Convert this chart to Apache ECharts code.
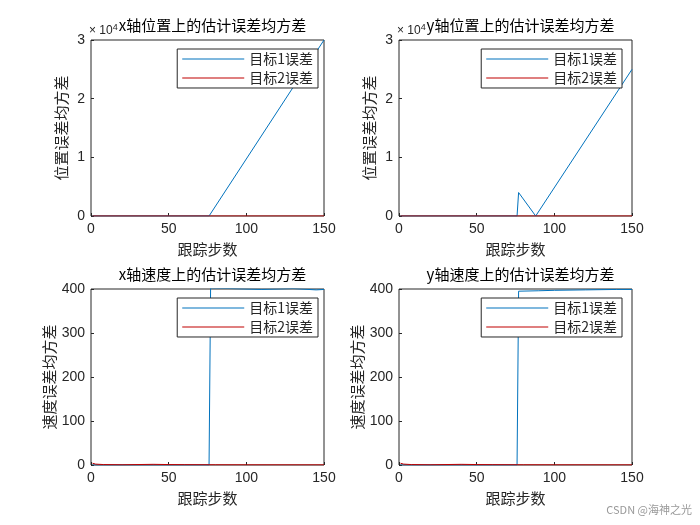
<!DOCTYPE html><html><head><meta charset="utf-8"><script src="https://cdn.jsdelivr.net/npm/echarts@6/dist/echarts.min.js"></script></head><body style="margin:0"><div id="c" style="width:700px;height:525px"></div><script>
const titles=['x轴位置上的估计误差均方差','y轴位置上的估计误差均方差','x轴速度上的估计误差均方差','y轴速度上的估计误差均方差'];
const yNames=['位置误差均方差','位置误差均方差','速度误差均方差','速度误差均方差'];
const xName='跟踪步数';
const legendNames=['目标1误差','目标2误差'];
const yMax=[30000,30000,400,400];
const yInt=[10000,10000,100,100];
const s1=[
 [[1,0],[76,0],[150,30000]],
 [[1,0],[76,0],[77,4000],[88,0],[150,25000]],
 [[1,0],[76,0],[77,402],[90,401],[110,399],[130,401],[145,398],[150,399]],
 [[1,0],[76,0],[77,395],[90,396],[100,397],[120,398],[140,399],[150,399]]
];
const s2=[
 [[1,0],[150,0]],
 [[1,0],[150,0]],
 [[1,4],[3,2],[8,1],[20,0.5],[40,1.5],[50,1],[60,0.8],[80,0.5],[100,0.4],[150,0.3]],
 [[1,4],[3,2],[8,1],[20,0.5],[40,1.5],[50,1],[60,0.8],[80,0.5],[100,0.4],[150,0.3]]
];
const L=[91,399],T=[40,289],W=233,H=176;
const font='"Noto Sans CJK SC"';
const grid=[],xAxis=[],yAxis=[],series=[],title=[],legend=[],graphic=[];
for(let i=0;i<4;i++){
 const l=L[i%2],t=T[Math.floor(i/2)];
 grid.push({left:l,top:t,width:W,height:H,show:true,borderColor:'#262626',borderWidth:1});
 xAxis.push({gridIndex:i,type:'value',min:0,max:150,interval:50,name:xName,nameLocation:'middle',nameGap:26,nameTextStyle:{fontFamily:font,fontSize:15,color:'#262626'},
  axisLine:{show:false},axisTick:{inside:true,length:3,lineStyle:{color:'#262626'}},splitLine:{show:false},axisLabel:{fontSize:14,color:'#262626',margin:6,fontFamily:'Arial'}});
 yAxis.push({gridIndex:i,type:'value',min:0,max:yMax[i],interval:yInt[i],name:yNames[i],nameLocation:'middle',nameGap:i<2?22:34,nameTextStyle:{fontFamily:font,fontSize:15,color:'#262626'},
  axisLine:{show:false},axisTick:{inside:true,length:3,lineStyle:{color:'#262626'}},splitLine:{show:false},
  axisLabel:{fontSize:14,color:'#262626',margin:6,fontFamily:'Arial',formatter:v=>i<2?String(v/10000):String(v)}});
 series.push({type:'line',name:legendNames[0],xAxisIndex:i,yAxisIndex:i,data:s1[i],symbol:'none',lineStyle:{color:'#0072BD',width:1},itemStyle:{color:'#0072BD'},clip:true});
 series.push({type:'line',name:legendNames[1],xAxisIndex:i,yAxisIndex:i,data:s2[i],symbol:'none',lineStyle:{color:'#C00000',width:1},itemStyle:{color:'#C00000'},clip:true});
 title.push({text:titles[i],left:l+W/2,top:t-27,textAlign:'center',textStyle:{fontFamily:font,fontSize:15,fontWeight:'normal',color:'#000'}});
 legend.push({data:legendNames,orient:'vertical',right:i%2?700-632+10:700-324+6,top:t+9,itemWidth:62,itemHeight:1,itemGap:5,icon:'rect',
  backgroundColor:'#fff',borderColor:'#262626',borderWidth:1,padding:[3,5,3,5],textStyle:{fontFamily:font,fontSize:14,color:'#262626'}});
 if(i<2) graphic.push({type:'text',left:l-2,top:t-17,style:{text:'× 10{s|4}',rich:{s:{fontSize:9,verticalAlign:'top',padding:[0,0,6,0]}},fontSize:12,fill:'#262626',fontFamily:'Arial'}});
}
graphic.push({type:'text',right:8,bottom:10,style:{text:'CSDN @海神之光',fontSize:11,fill:'#999',fontFamily:font}});
const ch=echarts.init(document.getElementById('c'));
ch.setOption({backgroundColor:'#fff',animation:false,grid,xAxis,yAxis,series,title,legend,graphic});
</script></body></html>
